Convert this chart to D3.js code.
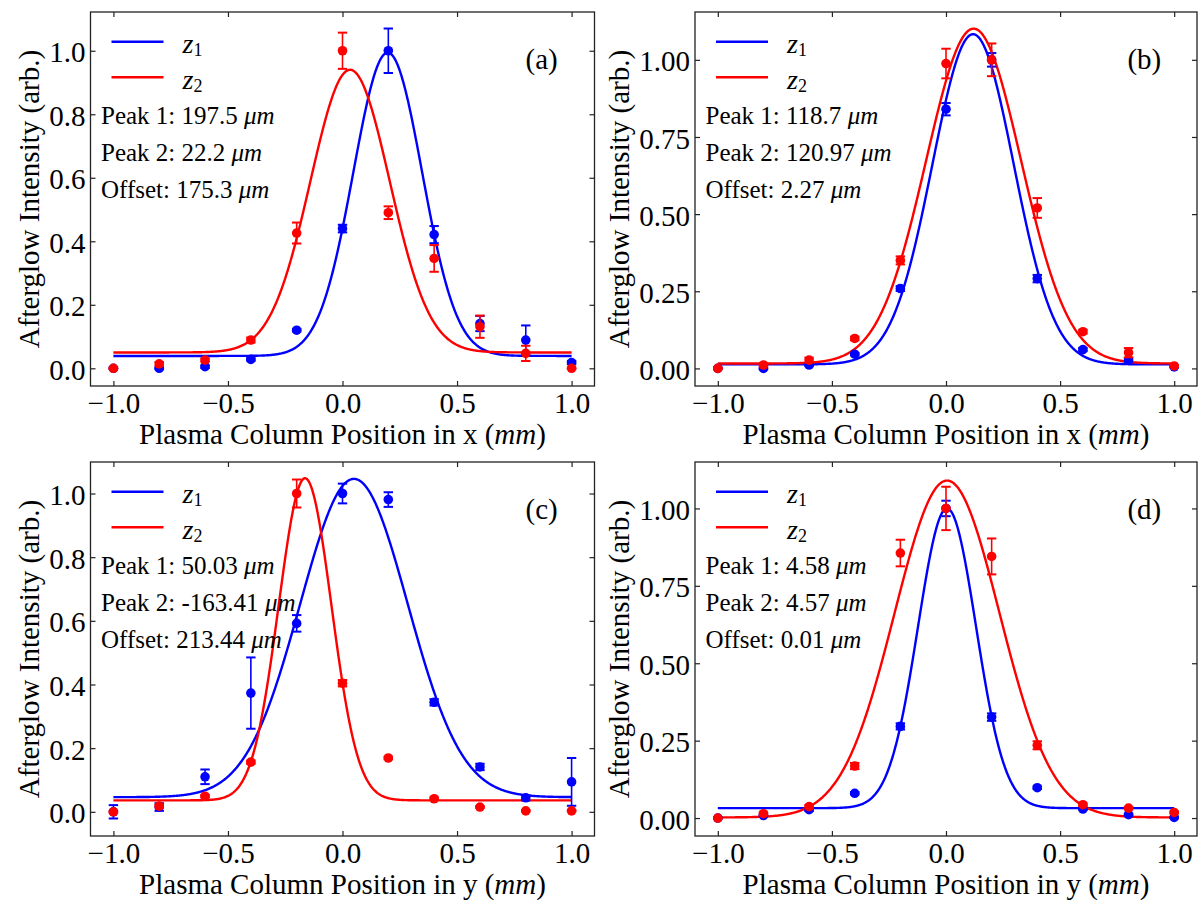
<!DOCTYPE html>
<html><head><meta charset="utf-8">
<script src="https://cdn.jsdelivr.net/npm/d3@7"></script>
<style>
body{margin:0;background:#fff}
svg{display:block}
text{font-family:"Liberation Serif","Times New Roman",serif;fill:#000}
</style>
</head><body>
<svg id="fig" width="1198" height="900"></svg>
<script>
// ---------------- data ----------------
const xPositions = [-1.0, -0.8, -0.6, -0.4, -0.2, 0.0, 0.2, 0.4, 0.6, 0.8, 1.0];
const panelLabels = ["(a)", "(b)", "(c)", "(d)"];
const scanAxis = ["x", "x", "y", "y"];
const xTickValues = [-1.0, -0.5, 0.0, 0.5, 1.0];
const yTickValuesAC = [0.0, 0.2, 0.4, 0.6, 0.8, 1.0];
const yTickValuesBD = [0.0, 0.25, 0.5, 0.75, 1.0];
const xLimits = [-1.1, 1.1];
const yLimits = [[-0.0557, 1.122], [-0.057, 1.155], [-0.076, 1.099], [-0.058, 1.15]];
const seriesNames = ["z", "z"];
const seriesSubs = ["1", "2"];
const peak1Values = ["197.5", "118.7", "50.03", "4.58"];
const peak2Values = ["22.2", "120.97", "-163.41", "4.57"];
const offsetValues = ["175.3", "2.27", "213.44", "0.01"];

// panel (a)
const aZ1 = [0.0, 0.0, 0.005, 0.028, 0.12, 0.44, 1.0, 0.421, 0.141, 0.089, 0.018];
const aZ1Err = [0.003, 0.003, 0.004, 0.004, 0.004, 0.012, 0.07, 0.027, 0.024, 0.046, 0.005];
const aZ2 = [0.0, 0.014, 0.026, 0.089, 0.426, 1.0, 0.49, 0.346, 0.131, 0.047, 0.0];
const aZ2Err = [0.002, 0.006, 0.005, 0.008, 0.033, 0.057, 0.02, 0.042, 0.035, 0.024, 0.002];
// panel (b)
const bZ1 = [0.0, 0.0, 0.011, 0.046, 0.259, 0.84, 1.0, 0.291, 0.061, 0.027, 0.005];
const bZ1Err = [0.002, 0.003, 0.004, 0.004, 0.008, 0.02, 0.022, 0.012, 0.005, 0.006, 0.002];
const bZ2 = [0.0, 0.011, 0.027, 0.097, 0.35, 0.988, 1.0, 0.52, 0.119, 0.051, 0.008];
const bZ2Err = [0.002, 0.004, 0.008, 0.006, 0.013, 0.048, 0.053, 0.032, 0.006, 0.015, 0.003];
// panel (c)
const cZ1 = [0.0, 0.015, 0.11, 0.373, 0.592, 1.0, 0.981, 0.344, 0.141, 0.044, 0.094];
const cZ1Err = [0.021, 0.012, 0.023, 0.112, 0.026, 0.031, 0.023, 0.01, 0.01, 0.008, 0.075];
const cZ2 = [0.0, 0.018, 0.049, 0.156, 1.0, 0.404, 0.169, 0.041, 0.015, 0.003, 0.003];
const cZ2Err = [0.003, 0.004, 0.004, 0.005, 0.044, 0.01, 0.004, 0.004, 0.003, 0.002, 0.002];
// panel (d)
const dZ1 = [0.0, 0.008, 0.027, 0.08, 0.296, 1.0, 0.326, 0.098, 0.029, 0.011, 0.002];
const dZ1Err = [0.002, 0.003, 0.004, 0.004, 0.01, 0.025, 0.012, 0.004, 0.003, 0.003, 0.002];
const dZ2 = [0.0, 0.014, 0.037, 0.168, 0.856, 1.0, 0.845, 0.235, 0.043, 0.032, 0.018];
const dZ2Err = [0.002, 0.004, 0.005, 0.01, 0.043, 0.07, 0.058, 0.013, 0.004, 0.004, 0.003];

// Gaussian fit parameters (panels a..d)
const fitCenterZ1 = [0.1975, 0.1187, 0.0500, 0.0046];
const fitSigmaZ1  = [0.150, 0.178, 0.235, 0.127];
const fitAmpZ1    = [0.955, 1.070, 1.000, 0.968];
const fitBaseZ1   = [0.039, 0.013, 0.046, 0.032];
const fitCenterZ2 = [0.033, 0.121, -0.1634, 0.0046];
const fitSigmaZ2  = [0.173, 0.208, 0.115, 0.230];
const fitAmpZ2    = [0.890, 1.085, 1.012, 1.088];
const fitBaseZ2   = [0.050, 0.016, 0.036, 0.002];

// ---------------- layout / style ----------------
const z1Values = [aZ1, bZ1, cZ1, dZ1], z1Errors = [aZ1Err, bZ1Err, cZ1Err, dZ1Err];
const z2Values = [aZ2, bZ2, cZ2, dZ2], z2Errors = [aZ2Err, bZ2Err, cZ2Err, dZ2Err];
const frames = [
  {l: 90.5, r: 594.5, t: 12, b: 386, ylab: 39.3},
  {l: 695, r: 1197, t: 12, b: 386, ylab: 629.3},
  {l: 90.5, r: 594.5, t: 462, b: 836, ylab: 39.3},
  {l: 695, r: 1197, t: 462, b: 836, ylab: 629.3}
];
const COLORS = ["#0000ff", "#ff0000"];
const TICK_FS = 29, LABEL_FS = 29, NOTE_FS = 25;
const svg = d3.select("#fig");
const minus = s => s.replace(/^-/, "\u2212");

frames.forEach((f, p) => {
  const g = svg.append("g");
  const x = d3.scaleLinear().domain(xLimits).range([f.l, f.r]);
  const y = d3.scaleLinear().domain(yLimits[p]).range([f.b, f.t]);
  const yTicks = (p % 2 === 0) ? yTickValuesAC : yTickValuesBD;
  const yFmt = d3.format((p % 2 === 0) ? ".1f" : ".2f");

  // fitted curves
  const fits = [
    {c: fitCenterZ1[p], s: fitSigmaZ1[p], a: fitAmpZ1[p], o: fitBaseZ1[p]},
    {c: fitCenterZ2[p], s: fitSigmaZ2[p], a: fitAmpZ2[p], o: fitBaseZ2[p]}
  ];
  const grid = d3.range(0, 801).map(i => xPositions[0] + i * (xPositions[xPositions.length - 1] - xPositions[0]) / 800);
  const line = d3.line().x(d => x(d[0])).y(d => y(d[1]));
  fits.forEach((ft, k) => {
    const pts = grid.map(v => [v, ft.o + ft.a * Math.exp(-((v - ft.c) ** 2) / (2 * ft.s * ft.s))]);
    g.append("path").attr("d", line(pts)).attr("fill", "none")
      .attr("stroke", COLORS[k]).attr("stroke-width", 2.4);
  });

  // error bars + points
  [[z1Values[p], z1Errors[p]], [z2Values[p], z2Errors[p]]].forEach(([vals, errs], k) => {
    const col = COLORS[k];
    const eg = g.append("g");
    vals.forEach((v, i) => {
      const cx = x(xPositions[i]);
      const y0 = y(v - errs[i]), y1 = y(v + errs[i]);
      eg.append("line").attr("x1", cx).attr("x2", cx).attr("y1", y0).attr("y2", y1)
        .attr("stroke", col).attr("stroke-width", 1.6);
      [y0, y1].forEach(yy => eg.append("line").attr("x1", cx - 4.7).attr("x2", cx + 4.7)
        .attr("y1", yy).attr("y2", yy).attr("stroke", col).attr("stroke-width", 2));
    });
    eg.selectAll("circle.pt").data(vals).enter().append("circle")
      .attr("cx", (d, i) => x(xPositions[i])).attr("cy", d => y(d))
      .attr("r", 4.8).attr("fill", col);
  });

  // axes (inward ticks on all sides)
  const bottom = g.append("g").attr("transform", `translate(0,${f.b})`)
    .call(d3.axisBottom(x).tickValues(xTickValues).tickSize(-5).tickPadding(6.4)
      .tickFormat(d => minus(d3.format(".1f")(d))));
  const top = g.append("g").attr("transform", `translate(0,${f.t})`)
    .call(d3.axisTop(x).tickValues(xTickValues).tickSize(-5).tickFormat(""));
  const left = g.append("g").attr("transform", `translate(${f.l},0)`)
    .call(d3.axisLeft(y).tickValues(yTicks).tickSize(-5).tickPadding(5).tickFormat(yFmt));
  const right = g.append("g").attr("transform", `translate(${f.r},0)`)
    .call(d3.axisRight(y).tickValues(yTicks).tickSize(-5).tickFormat(""));
  [bottom, top, left, right].forEach(a => {
    a.select(".domain").remove();
    a.selectAll(".tick line").attr("stroke", "#222").attr("stroke-width", 1.2);
    a.selectAll("text").attr("font-family", "Liberation Serif").attr("font-size", TICK_FS).attr("fill", "#000");
  });
  left.selectAll("text").attr("dy", "0.38em");
  bottom.selectAll("text").attr("dy", "0.71em");

  // frame
  g.append("rect").attr("x", f.l).attr("y", f.t).attr("width", f.r - f.l).attr("height", f.b - f.t)
    .attr("fill", "none").attr("stroke", "#222").attr("stroke-width", 1.3);

  // axis labels
  const xl = g.append("text").attr("x", (f.l + f.r) / 2).attr("y", f.b + 58)
    .attr("text-anchor", "middle").attr("font-size", LABEL_FS);
  xl.append("tspan").text(`Plasma Column Position in ${scanAxis[p]} (`);
  xl.append("tspan").attr("font-style", "italic").text("mm");
  xl.append("tspan").text(")");
  g.append("text").attr("transform", `translate(${f.ylab},${(f.t + f.b) / 2}) rotate(-90)`)
    .attr("text-anchor", "middle").attr("font-size", LABEL_FS).text("Afterglow Intensity (arb.)");

  // legend
  [0, 1].forEach(k => {
    g.append("line").attr("x1", f.l + 21).attr("x2", f.l + 73)
      .attr("y1", f.t + 29.7 + k * 35.6).attr("y2", f.t + 29.7 + k * 35.6)
      .attr("stroke", COLORS[k]).attr("stroke-width", 2.4);
    const t = g.append("text").attr("x", f.l + 92).attr("y", f.t + 41.3 + k * 35.4).attr("font-size", 28);
    t.append("tspan").attr("font-style", "italic").text(seriesNames[k]);
    t.append("tspan").attr("font-size", 18).attr("dy", 3).text(seriesSubs[k]);
  });

  // annotations
  const notes = [["Peak 1: ", peak1Values[p]], ["Peak 2: ", peak2Values[p]], ["Offset: ", offsetValues[p]]];
  notes.forEach((n, j) => {
    const t = g.append("text").attr("x", f.l + 10.5).attr("y", f.t + 112 + j * 36.8).attr("font-size", NOTE_FS);
    t.append("tspan").text(n[0] + n[1] + " ");
    t.append("tspan").attr("font-style", "italic").text("\u03bcm");
  });

  // panel label
  g.append("text").attr("x", f.l + 0.895 * (f.r - f.l)).attr("y", f.t + 57)
    .attr("text-anchor", "middle").attr("font-size", LABEL_FS).text(panelLabels[p]);
});
</script>
</body></html>
